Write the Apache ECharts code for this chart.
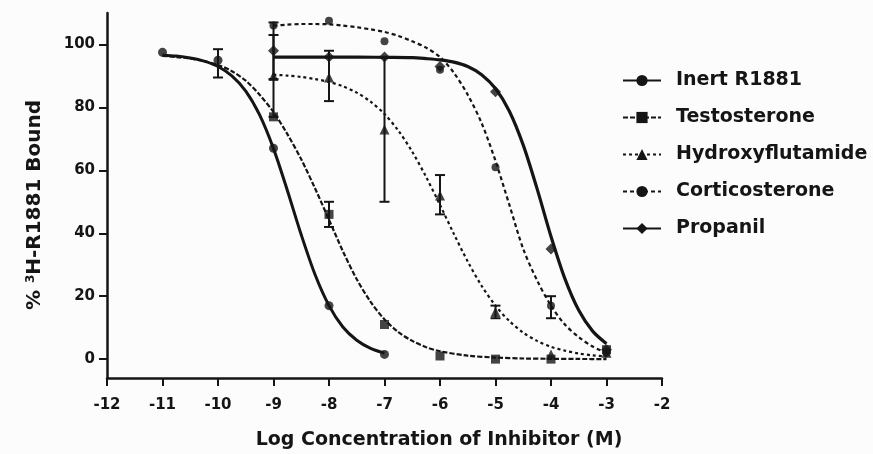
<!DOCTYPE html>
<html><head><meta charset="utf-8">
<script src="https://cdn.jsdelivr.net/npm/echarts@6/dist/echarts.min.js"></script>
<style>html,body{margin:0;padding:0;background:#fcfcfc}#c{width:873px;height:454px}</style>
</head><body><div id="c"></div>
<script>
// ---- tick labels ----
const xTicks = [-12,-11,-10,-9,-8,-7,-6,-5,-4,-3,-2];
const yTicks = [0,20,40,60,80,100];
const seriesNames = ['Inert R1881','Testosterone','Hydroxyflutamide','Corticosterone','Propanil'];

// ---- fitted curves ----
const r1881FitX = [-11,-10.75,-10.5,-10.25,-10,-9.75,-9.5,-9.25,-9,-8.75,-8.5,-8.25,-8,-7.75,-7.5,-7.25,-7];
const r1881FitY = [96.6,96.3,95.7,94.7,93.0,90.0,85.2,77.6,66.9,53.6,39.5,26.8,17.0,10.2,6.0,3.4,1.9];
const testoFitX = [-11,-10.75,-10.5,-10.25,-10,-9.75,-9.5,-9.25,-9,-8.75,-8.5,-8.25,-8,-7.75,-7.5,-7.25,-7,-6.75,-6.5,-6.25,-6,-5.5,-5,-4.5,-4,-3.5,-3];
const testoFitY = [96.4,96.0,95.5,94.7,93.5,91.5,88.5,84.0,78.5,71.5,63.5,54.2,44.3,34.3,25.4,18.2,12.6,8.6,5.8,3.8,2.5,1.1,0.5,0.2,0.1,0.05,0];
const hydroFitX = [-9,-8.75,-8.5,-8.25,-8,-7.75,-7.5,-7.25,-7,-6.75,-6.5,-6.25,-6,-5.75,-5.5,-5.25,-5,-4.75,-4.5,-4.25,-4,-3.75,-3.5,-3.25,-3];
const hydroFitY = [90.4,90.1,89.7,89.0,88.1,86.7,84.7,81.8,77.9,72.6,65.9,57.9,49.0,39.8,31.0,23.3,17.0,12.1,8.4,5.8,3.9,2.7,1.8,1.2,0.8];
const corticoFitX = [-9,-8.75,-8.5,-8.25,-8,-7.75,-7.5,-7.25,-7,-6.75,-6.5,-6.25,-6,-5.75,-5.5,-5.25,-5,-4.75,-4.5,-4.25,-4,-3.75,-3.5,-3.25,-3];
const corticoFitY = [106,106.3,106.5,106.5,106.4,106,105.5,104.8,104,102.7,101,99,96,91,84,75,63,49,35,25,17,11,7,4,2];
const propFitX = [-9,-8.5,-8,-7.5,-7,-6.5,-6.25,-6,-5.75,-5.5,-5.25,-5,-4.75,-4.5,-4.25,-4,-3.75,-3.5,-3.25,-3];
const propFitY = [96.0,96.0,96.0,96.0,95.9,95.8,95.5,95.1,94.4,93.0,90.4,86.0,78.8,68.0,54.1,39.0,25.6,15.5,8.9,4.9];

// ---- measured points ----
const r1881X = [-11,-10,-9,-8,-7];
const r1881Y = [97.5,95,67,17,1.5];
const testoX = [-9,-8,-7,-6,-5,-4,-3];
const testoY = [77,46,11,1,0,0,3];
const hydroX = [-9,-8,-7,-6,-5,-4,-3];
const hydroY = [90,89.5,73,52,15,1.5,2];
const corticoX = [-9,-8,-7,-6,-5,-4,-3];
const corticoY = [106,107.5,101,92,61,17,2];
const propX = [-9,-8,-7,-6,-5,-4,-3];
const propY = [98,96,96,93,85,35,3];

// ---- error bars: x, low, high ----
const errX  = [-10, -9, -9, -8, -7, -6, -8, -4, -5];
const errLo = [89.5, 89, 77, 82, 50, 46, 42, 13, 13];
const errHi = [98.5, 107, 103, 98, 96, 58.5, 50, 20, 17];

const ink = '#151515';
const FONT = 'DejaVu Sans, Verdana, sans-serif';
const zip = (xs, ys) => xs.map((x, i) => [x, ys[i]]);
const styles = [
  {sym:'circle', size:9, lw:3, type:'solid'},
  {sym:'rect', size:9, lw:2.2, type:[5,2]},
  {sym:'triangle', size:10, lw:2.2, type:[3,3]},
  {sym:'circle', size:8, lw:2.2, type:[4,3]},
  {sym:'diamond', size:11, lw:3.2, type:'solid'}
];
const fits = [zip(r1881FitX,r1881FitY), zip(testoFitX,testoFitY), zip(hydroFitX,hydroFitY), zip(corticoFitX,corticoFitY), zip(propFitX,propFitY)];
const marks = [zip(r1881X,r1881Y), zip(testoX,testoY), zip(hydroX,hydroY), zip(corticoX,corticoY), zip(propX,propY)];

const series = [];
seriesNames.forEach((n, i) => {
  const s = styles[i];
  series.push({
    name: n, type: 'line', data: fits[i], smooth: 0.3,
    symbol: s.sym, symbolSize: s.size, showSymbol: false,
    lineStyle: {color: ink, width: s.lw, type: s.type},
    itemStyle: {color: ink}, z: 3, silent: true, animation: false
  });
});
seriesNames.forEach((n, i) => {
  const s = styles[i];
  series.push({
    name: n, type: 'scatter', data: marks[i], symbol: s.sym, symbolSize: s.size,
    itemStyle: {color: ink}, z: 4, animation: false
  });
});
series.push({
  type: 'custom', z: 5, animation: false,
  data: errX.map((x, i) => [x, errLo[i], errHi[i]]),
  renderItem: function (params, api) {
    const lo = api.coord([api.value(0), api.value(1)]);
    const hi = api.coord([api.value(0), api.value(2)]);
    const w = 5;
    return {type: 'group', children: [
      {type: 'line', shape: {x1: lo[0], y1: lo[1], x2: hi[0], y2: hi[1]}, style: {stroke: ink, lineWidth: 2}},
      {type: 'line', shape: {x1: lo[0]-w, y1: lo[1], x2: lo[0]+w, y2: lo[1]}, style: {stroke: ink, lineWidth: 2}},
      {type: 'line', shape: {x1: hi[0]-w, y1: hi[1], x2: hi[0]+w, y2: hi[1]}, style: {stroke: ink, lineWidth: 2}}
    ]};
  }
});

const chart = echarts.init(document.getElementById('c'), null, {renderer: 'canvas'});
const lblFont = {color: ink, fontFamily: FONT, fontWeight: 'bold', fontSize: 15};
chart.setOption({
  backgroundColor: '#fcfcfc',
  animation: false,
  grid: {left: 107, right: 211, top: 13, bottom: 76, outerBoundsMode: 'none'},
  xAxis: {
    type: 'value', min: -12, max: -2, interval: 1,
    axisLine: {onZero: false, lineStyle: {color: ink, width: 2.5}},
    axisTick: {length: 8, lineStyle: {color: ink, width: 2}},
    axisLabel: Object.assign({margin: 20, formatter: v => xTicks.includes(v) ? String(v) : ''}, lblFont),
    splitLine: {show: false}
  },
  yAxis: {
    type: 'value', min: -6, max: 110,
    axisLine: {show: true, onZero: false, lineStyle: {color: ink, width: 2.5}},
    axisTick: {show: true, length: 8, customValues: yTicks, lineStyle: {color: ink, width: 2}},
    axisLabel: Object.assign({margin: 12, customValues: yTicks}, lblFont),
    splitLine: {show: false}
  },
  legend: {
    orient: 'vertical', left: 617, top: 66, itemWidth: 38, itemHeight: 14, itemGap: 18,
    data: seriesNames,
    textStyle: {color: ink, fontFamily: FONT, fontWeight: 'bold', fontSize: 19, padding: [0,0,0,10]}
  },
  graphic: [
    {type: 'text', x: 35, y: 205, rotation: Math.PI / 2,
     style: {text: '{a|% }{s|3}{a|H-R1881 Bound}', align: 'center', verticalAlign: 'middle',
       rich: {a: {fontSize: 20, fontWeight: 'bold', fontFamily: FONT, fill: ink},
              s: {fontSize: 12, fontWeight: 'bold', fontFamily: FONT, fill: ink, verticalAlign: 'top', padding: [0,0,9,0]}}}},
    {type: 'text', x: 439, y: 440,
     style: {text: 'Log Concentration of Inhibitor (M)', align: 'center', verticalAlign: 'middle',
       fontSize: 19, fontWeight: 'bold', fontFamily: FONT, fill: ink}}
  ],
  series: series
});
</script>
</body></html>
